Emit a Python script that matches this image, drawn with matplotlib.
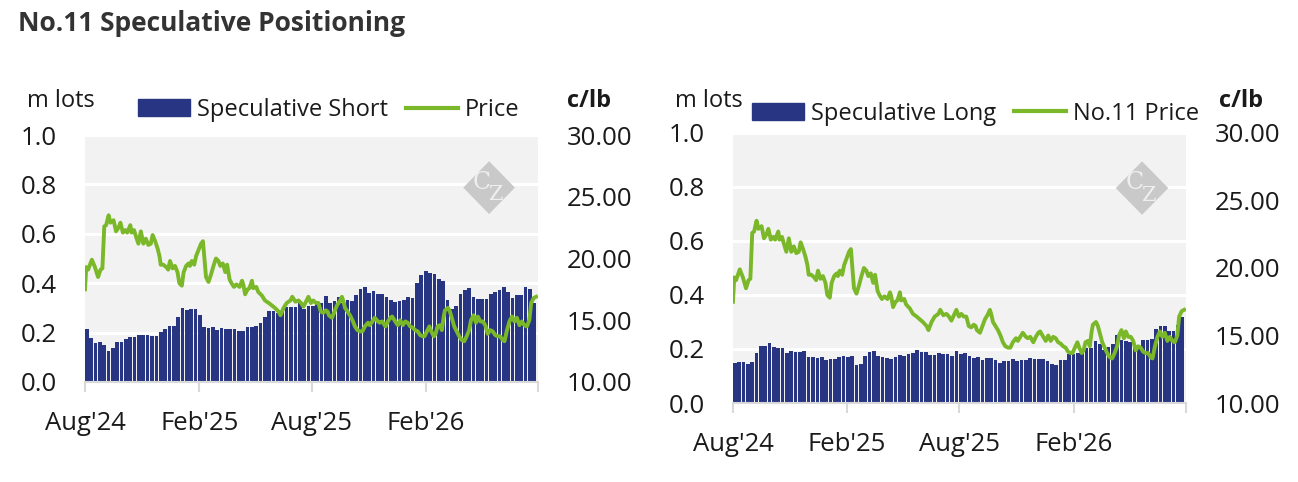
import datetime as dt

import matplotlib
matplotlib.use('Agg')
import matplotlib.pyplot as plt
import matplotlib.dates as mdates
from matplotlib.patches import Polygon
from matplotlib.transforms import offset_copy

plt.rcParams['font.family'] = ['Open Sans', 'DejaVu Sans']

# 周度持仓 (m lots)，从 2024-08-01 起每周一根
spec_short = [
    0.215, 0.178, 0.158, 0.162, 0.150, 0.124, 0.138, 0.161, 0.161, 0.173,
    0.182, 0.182, 0.189, 0.189, 0.189, 0.185, 0.185, 0.201, 0.214, 0.226,
    0.226, 0.262, 0.299, 0.293, 0.295, 0.295, 0.270, 0.222, 0.218, 0.222,
    0.209, 0.218, 0.214, 0.214, 0.214, 0.205, 0.205, 0.222, 0.222, 0.227,
    0.238, 0.262, 0.286, 0.286, 0.278, 0.289, 0.303, 0.305, 0.305, 0.322,
    0.295, 0.309, 0.309, 0.326, 0.319, 0.349, 0.319, 0.328, 0.343, 0.319,
    0.332, 0.328, 0.353, 0.377, 0.385, 0.359, 0.369, 0.357, 0.357, 0.343,
    0.332, 0.324, 0.328, 0.332, 0.345, 0.339, 0.400, 0.432, 0.450, 0.442,
    0.436, 0.418, 0.409, 0.332, 0.296, 0.308, 0.355, 0.373, 0.380, 0.343,
    0.336, 0.336, 0.336, 0.355, 0.365, 0.373, 0.385, 0.365, 0.341, 0.353,
    0.353, 0.385, 0.377, 0.319,
]
spec_long = [
    0.148, 0.151, 0.151, 0.143, 0.151, 0.185, 0.211, 0.211, 0.223, 0.208,
    0.204, 0.204, 0.185, 0.192, 0.189, 0.189, 0.192, 0.170, 0.170, 0.166,
    0.170, 0.158, 0.162, 0.162, 0.170, 0.174, 0.170, 0.174, 0.140, 0.143,
    0.174, 0.189, 0.192, 0.174, 0.170, 0.166, 0.162, 0.170, 0.177, 0.174,
    0.181, 0.185, 0.196, 0.189, 0.189, 0.177, 0.177, 0.185, 0.181, 0.181,
    0.174, 0.192, 0.181, 0.185, 0.174, 0.166, 0.170, 0.158, 0.166, 0.166,
    0.158, 0.147, 0.155, 0.155, 0.162, 0.155, 0.158, 0.158, 0.166, 0.162,
    0.162, 0.162, 0.155, 0.143, 0.140, 0.158, 0.158, 0.181, 0.181, 0.185,
    0.196, 0.204, 0.204, 0.230, 0.219, 0.196, 0.208, 0.219, 0.253, 0.234,
    0.230, 0.226, 0.208, 0.211, 0.234, 0.234, 0.238, 0.275, 0.287, 0.287,
    0.268, 0.268, 0.290, 0.320,
]

# No.11 价格 (c/lb)，price_days 为距 2024-08-01 的天数
price_days = [
    0, 2, 5, 11, 16, 21, 25, 28, 31, 34,
    38, 41, 46, 50, 54, 57, 61, 65, 68, 73,
    75, 79, 82, 86, 90, 94, 98, 102, 106, 109,
    113, 117, 120, 122, 126, 131, 134, 137, 141, 145,
    149, 152, 156, 159, 163, 167, 169, 172, 176, 179,
    183, 187, 190, 192, 195, 199, 203, 207, 211, 215,
    218, 222, 226, 229, 233, 236, 240, 244, 249, 253,
    255, 258, 262, 265, 269, 271, 276, 279, 285, 290,
    296, 301, 306, 312, 315, 320, 325, 331, 334, 339,
    344, 348, 352, 356, 360, 364, 368, 372, 376, 380,
    384, 388, 391, 393, 398, 402, 406, 410, 414, 416,
    419, 423, 427, 431, 435, 439, 443, 447, 451, 456,
    459, 463, 467, 472, 475, 479, 484, 488, 492, 495,
    500, 504, 508, 512, 516, 520, 524, 528, 532, 536,
    540, 544, 547, 551, 555, 558, 562, 565, 568, 572,
    575, 578, 580, 585, 588, 591, 595, 599, 603, 607,
    611, 615, 619, 622, 626, 630, 633, 637, 641, 645,
    649, 653, 657, 661, 665, 669, 673, 676, 680, 684,
    688, 692, 696, 700, 704, 708, 712, 716, 719, 723,
    727,
]
price = [
    17.5, 19.3, 19.1, 19.9, 19.3, 18.5, 19.1, 19.2, 22.6, 22.7,
    23.5, 22.9, 23.1, 22.2, 22.5, 22.9, 22.1, 22.3, 22.1, 22.7,
    22.1, 22.3, 21.8, 21.2, 22.2, 21.2, 21.6, 21.1, 21.2, 21.9,
    21.4, 20.8, 20.2, 19.5, 19.5, 19.3, 19.1, 19.8, 19.2, 19.4,
    18.9, 18.0, 17.8, 18.9, 19.4, 19.6, 19.4, 19.8, 19.5, 20.2,
    20.7, 21.2, 21.4, 20.2, 18.5, 18.1, 18.7, 19.4, 20.0, 19.8,
    19.4, 19.6, 18.9, 19.5, 18.3, 18.0, 17.7, 17.9, 17.7, 18.2,
    17.9, 17.1, 17.5, 17.6, 18.2, 17.6, 17.7, 17.3, 17.0, 16.6,
    16.4, 16.2, 16.0, 15.7, 15.4, 16.0, 16.4, 16.6, 16.9, 16.5,
    16.6, 16.4, 16.1, 16.5, 16.9, 16.4, 16.6, 16.4, 16.4, 15.7,
    15.6, 15.8, 15.7, 15.4, 15.2, 15.7, 16.2, 16.5, 16.9, 16.6,
    16.0, 15.7, 15.4, 15.0, 14.5, 14.2, 14.1, 14.1, 14.5, 14.8,
    14.6, 14.9, 15.2, 14.9, 14.8, 14.9, 14.5, 14.9, 15.2, 15.3,
    14.9, 14.6, 15.0, 14.6, 14.9, 14.8, 14.5, 14.4, 14.2, 14.1,
    13.8, 13.7, 13.7, 14.1, 14.5, 14.1, 13.7, 13.9, 14.5, 14.6,
    14.2, 15.3, 15.8, 16.0, 15.7, 15.2, 14.5, 14.1, 13.7, 13.4,
    13.3, 13.7, 14.2, 15.0, 15.4, 14.8, 15.3, 14.9, 14.9, 14.6,
    13.9, 14.2, 14.1, 13.8, 13.7, 13.7, 13.4, 13.3, 14.2, 14.9,
    15.3, 14.9, 15.2, 14.6, 14.9, 14.6, 14.5, 15.0, 16.4, 16.8,
    16.9,
]

tick_dates = [dt.date(2024, 8, 1), dt.date(2025, 2, 1), dt.date(2025, 8, 1),
              dt.date(2026, 2, 1), dt.date(2026, 8, 1)]
tick_labels = ["Aug'24", "Feb'25", "Aug'25", "Feb'26", ""]

NAVY = '#283583'
GREEN = '#7AB829'
BG = '#F2F2F2'
TXT = '#1A1A1A'

start = mdates.date2num(dt.date(2024, 8, 1))
bar_x = [start + 7 * i for i in range(len(spec_short))]
price_x = [start + d for d in price_days]


def draw_logo(fig, ax, cx, cy, hw, hh):
    """画 CZ 菱形水印"""
    ax.add_patch(Polygon([(cx, cy + hh), (cx + hw, cy), (cx, cy - hh), (cx - hw, cy)],
                         closed=True, transform=ax.transAxes, color='#C9C9C9',
                         zorder=1, linewidth=0))
    t_c = offset_copy(ax.transAxes, fig=fig, x=-5, y=4, units='points')
    t_z = offset_copy(ax.transAxes, fig=fig, x=4.5, y=-5, units='points')
    ax.text(cx, cy, 'C', transform=t_c, ha='center', va='center',
            fontsize=17, family='DejaVu Serif', color='#EFEFEF', zorder=1)
    ax.text(cx, cy, 'Z', transform=t_z, ha='center', va='center',
            fontsize=15, family='DejaVu Serif', color='#EFEFEF', zorder=1)


def draw_panel(fig, rect, bars, bar_name, line_name, legend_center, logo):
    ax = fig.add_axes(rect)
    ax.set_facecolor(BG)
    ax.set_axisbelow(True)
    ax.bar(bar_x, bars, width=5.9, align='edge', color=NAVY, zorder=2)
    ax.set_ylim(0, 1.0)
    ax.set_yticks([0, 0.2, 0.4, 0.6, 0.8, 1.0])
    ax.set_yticklabels(['0.0', '0.2', '0.4', '0.6', '0.8', '1.0'])
    ax.grid(axis='y', color='white', linewidth=2.2)
    ax.set_xlim(start, mdates.date2num(dt.date(2026, 8, 1)))
    ax.set_xticks([mdates.date2num(d) for d in tick_dates])
    ax.set_xticklabels(tick_labels)
    for s in ['top', 'right', 'left']:
        ax.spines[s].set_visible(False)
    ax.spines['bottom'].set_color('#D9D9D9')
    ax.spines['bottom'].set_linewidth(1.5)
    ax.tick_params(axis='x', length=7, width=1.5, color='#D9D9D9', pad=14,
                   labelsize=18.5, labelcolor=TXT)
    ax.tick_params(axis='y', length=0, pad=20, labelsize=18.5, labelcolor=TXT)

    ax2 = ax.twinx()
    ax2.plot(price_x, price, color=GREEN, linewidth=2.8)
    ax2.set_ylim(10, 30)
    ax2.set_yticks([10, 15, 20, 25, 30])
    ax2.set_yticklabels(['10.00', '15.00', '20.00', '25.00', '30.00'])
    ax2.tick_params(axis='y', length=0, pad=21, labelsize=18.5, labelcolor=TXT)
    for s in ax2.spines.values():
        s.set_visible(False)

    draw_logo(fig, ax, *logo)

    h_bar = plt.Rectangle((0, 0), 1, 1, color=NAVY)
    h_line = plt.Line2D([], [], color=GREEN, linewidth=3)
    fig.legend([h_bar, h_line], [bar_name, line_name], loc='center',
               bbox_to_anchor=legend_center, ncol=2, frameon=False,
               fontsize=17, handlelength=2.2, handleheight=0.7,
               handletextpad=0.3, columnspacing=0.75, labelcolor=TXT)
    return ax


fig = plt.figure(figsize=(12.98, 4.82), dpi=100)
fig.text(0.0135, 0.952, 'No.11 Speculative Positioning', fontsize=19,
         fontweight='bold', color='#333333', va='center', ha='left')

draw_panel(fig, [0.0655, 0.2075, 0.349, 0.5124], spec_short,
           'Speculative Short', 'Price', (0.2535, 0.772),
           (0.892, 0.787, 0.057, 0.107))
draw_panel(fig, [0.5647, 0.1639, 0.349, 0.5602], spec_long,
           'Speculative Long', 'No.11 Price', (0.7515, 0.764),
           (0.903, 0.796, 0.058, 0.099))

for x_lots, x_unit in [(0.0466, 0.4538), (0.5462, 0.9561)]:
    fig.text(x_lots, 0.79, 'm lots', fontsize=17, color=TXT, ha='center', va='center')
    fig.text(x_unit, 0.79, 'c/lb', fontsize=17, fontweight='bold', color=TXT,
             ha='center', va='center')

fig.savefig('out.png', dpi=100, facecolor='white')
